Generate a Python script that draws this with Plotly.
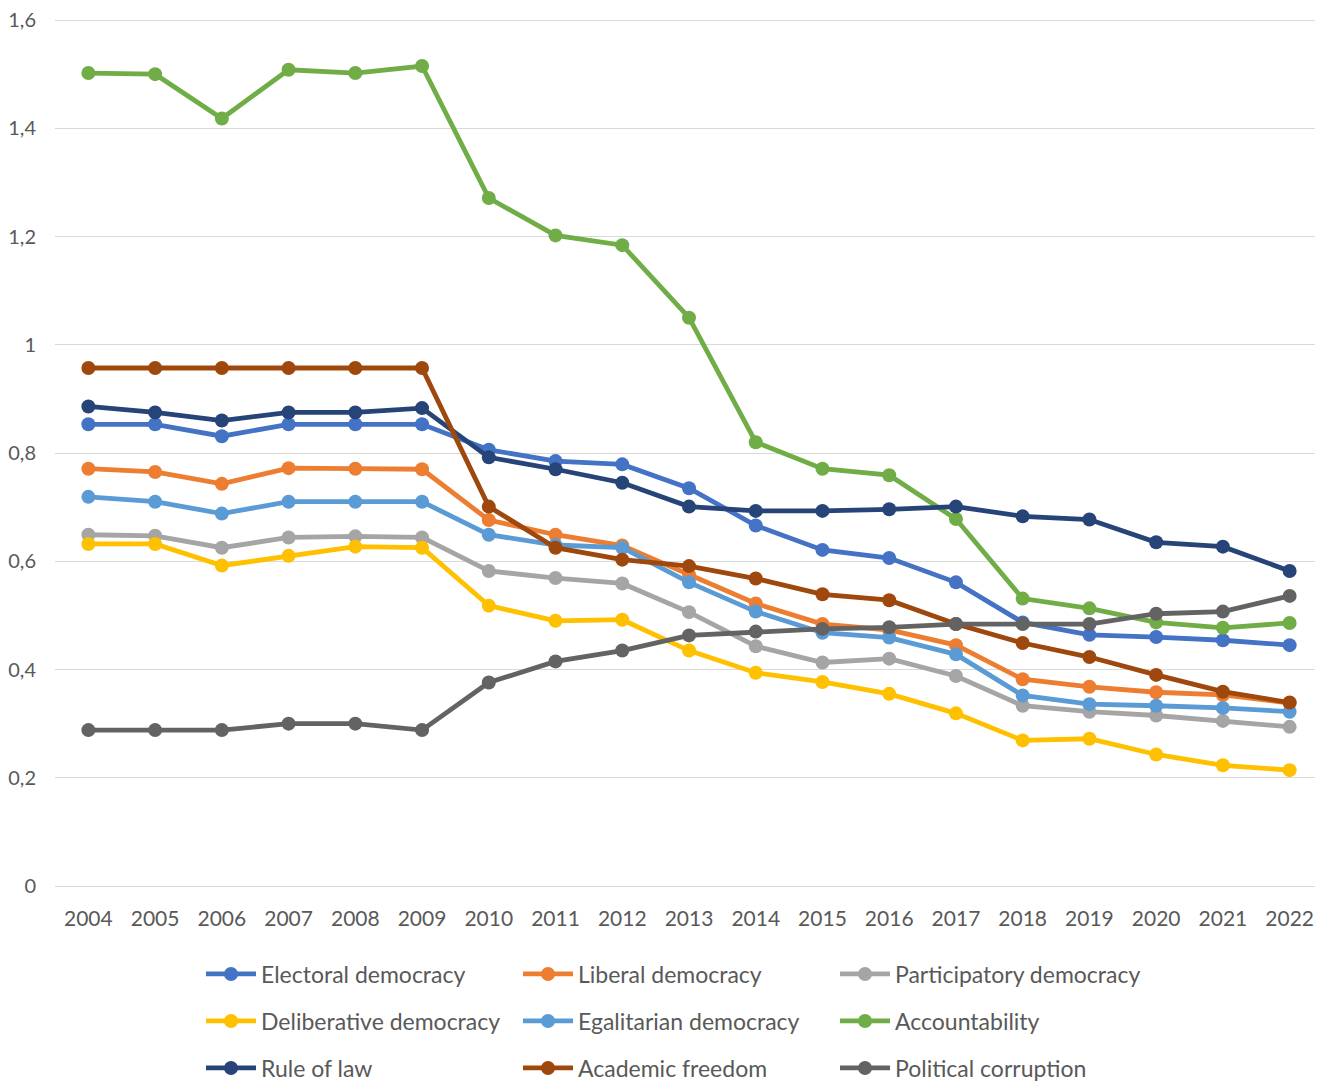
import plotly.graph_objects as go

years = list(range(2004, 2023))

electoral = [0.853, 0.853, 0.831, 0.853, 0.853, 0.853, 0.806, 0.785, 0.779, 0.735, 0.666, 0.621, 0.606, 0.561, 0.487, 0.464, 0.460, 0.454, 0.445]
liberal = [0.771, 0.765, 0.743, 0.772, 0.771, 0.770, 0.676, 0.649, 0.629, 0.575, 0.522, 0.484, 0.473, 0.445, 0.382, 0.368, 0.358, 0.353, 0.338]
participatory = [0.649, 0.647, 0.625, 0.644, 0.646, 0.644, 0.582, 0.569, 0.559, 0.506, 0.443, 0.413, 0.420, 0.388, 0.333, 0.322, 0.315, 0.305, 0.294]
deliberative = [0.632, 0.632, 0.592, 0.610, 0.627, 0.625, 0.518, 0.490, 0.492, 0.435, 0.394, 0.377, 0.355, 0.319, 0.269, 0.272, 0.243, 0.223, 0.214]
egalitarian = [0.719, 0.710, 0.688, 0.710, 0.710, 0.710, 0.649, 0.630, 0.625, 0.561, 0.507, 0.468, 0.459, 0.428, 0.352, 0.336, 0.333, 0.329, 0.322]
accountability = [1.502, 1.500, 1.418, 1.508, 1.502, 1.515, 1.271, 1.202, 1.184, 1.050, 0.820, 0.771, 0.759, 0.678, 0.531, 0.513, 0.487, 0.477, 0.486]
rule_of_law = [0.886, 0.875, 0.860, 0.875, 0.875, 0.883, 0.792, 0.770, 0.745, 0.701, 0.693, 0.693, 0.696, 0.701, 0.683, 0.677, 0.635, 0.627, 0.582]
academic = [0.957, 0.957, 0.957, 0.957, 0.957, 0.957, 0.701, 0.625, 0.603, 0.591, 0.568, 0.539, 0.528, 0.484, 0.449, 0.423, 0.390, 0.359, 0.339]
corruption = [0.288, 0.288, 0.288, 0.300, 0.300, 0.288, 0.376, 0.415, 0.435, 0.463, 0.470, 0.475, 0.478, 0.484, 0.484, 0.484, 0.503, 0.507, 0.536]

series_names = ["Electoral democracy", "Liberal democracy", "Participatory democracy",
                "Deliberative democracy", "Egalitarian democracy", "Accountability",
                "Rule of law", "Academic freedom", "Political corruption"]
series_values = [electoral, liberal, participatory, deliberative, egalitarian,
                 accountability, rule_of_law, academic, corruption]
colors = ["#4472C4", "#ED7D31", "#A5A5A5", "#FFC000", "#5B9BD5", "#70AD47",
          "#264478", "#9E480E", "#636363"]

y_tickvals = [0, 0.2, 0.4, 0.6, 0.8, 1.0, 1.2, 1.4, 1.6]
y_ticktext = ["0", "0,2", "0,4", "0,6", "0,8", "1", "1,2", "1,4", "1,6"]

FONT = "Lato"
TXT = "#595959"

fig = go.Figure()
legends = ["legend", "legend2", "legend3"]
for i, (name, vals, c) in enumerate(zip(series_names, series_values, colors)):
    fig.add_trace(go.Scatter(
        x=years, y=vals, name=name, mode="lines+markers",
        line=dict(color=c, width=4.8),
        marker=dict(color=c, size=14),
        legend=legends[i // 3],
    ))

# page body has an 8px margin: figure pixel = screen pixel - 8
OFF = 8
W, H = 1323 - OFF, 1084 - OFF
PAD = 3  # px of range padding so the 0 and 1.6 gridlines are drawn
TOP = 20  # screen y of the 1.6 gridline (kept clear of the page edge)
ml, mr, mt, mb = 55 - OFF, 0, TOP - OFF - PAD, 198 - PAD
ph = H - mt - mb
pw = W - ml - mr
unit = (ph - 2 * PAD) / 1.6
ypad = PAD / unit

def py_to_paper(py):
    return (H - mb - (py - OFF)) / ph

def px_to_paper(px):
    return ((px - OFF) - ml) / pw

leg_common = dict(
    orientation="h", xanchor="left", yanchor="middle",
    entrywidth=252, entrywidthmode="pixels",
    font=dict(family=FONT, size=23, color=TXT),
    bgcolor="rgba(0,0,0,0)", itemwidth=50,
    traceorder="normal",
)
lx = px_to_paper(261 - 60)
fig.update_layout(
    width=W, height=H,
    margin=dict(l=ml, r=mr, t=mt, b=mb, autoexpand=False),
    paper_bgcolor="white", plot_bgcolor="white",
    font=dict(family=FONT, color=TXT, size=20),
    legend=dict(x=lx, y=py_to_paper(974), **leg_common),
    legend2=dict(x=lx, y=py_to_paper(1021), **leg_common),
    legend3=dict(x=lx, y=py_to_paper(1068), **leg_common),
    xaxis=dict(
        range=[2003.5, 2022.5], tickmode="array", tickvals=years,
        ticktext=[str(y) for y in years], showgrid=False, zeroline=False,
        showline=False, ticks="", ticklabelstandoff=15, ticklabeloverflow="allow",
        tickfont=dict(family=FONT, size=21, color=TXT),
    ),
    yaxis=dict(
        range=[-ypad, 1.6 + ypad], tickmode="array", tickvals=y_tickvals, ticktext=y_ticktext,
        showgrid=True, gridcolor="#D9D9D9", gridwidth=1.3, zeroline=False,
        showline=False, ticks="", ticklabelstandoff=18, ticklabeloverflow="allow",
        tickfont=dict(family=FONT, size=20, color=TXT),
    ),
)

fig.write_html("out.html")
